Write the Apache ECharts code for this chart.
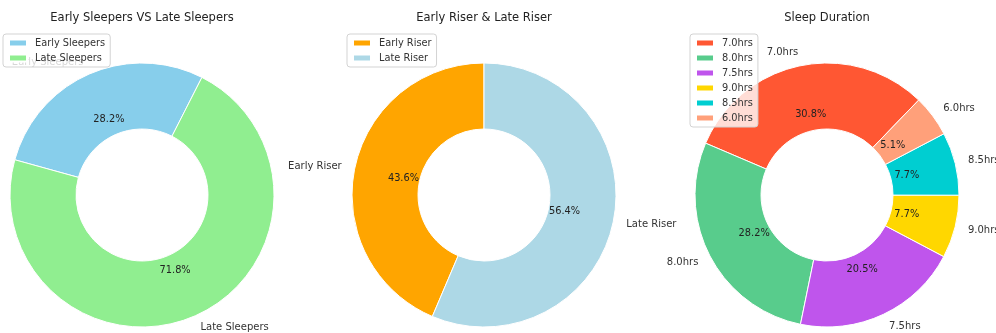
<!DOCTYPE html>
<html>
<head>
<meta charset="utf-8">
<script src="https://cdn.jsdelivr.net/npm/echarts@6/dist/echarts.min.js"></script>
<style>
html,body{margin:0;padding:0;background:#fff;}
#chart{width:996px;height:333px;}
</style>
</head>
<body>
<div id="chart"></div>
<script>
// ---- data ----
const titles = ['Early Sleepers VS Late Sleepers', 'Early Riser & Late Riser', 'Sleep Duration'];
const sleeperCats = ['Early Sleepers', 'Late Sleepers'];
const sleeperPct = [28.2, 71.8];
const riserCats = ['Early Riser', 'Late Riser'];
const riserPct = [43.6, 56.4];
const durationCats = ['7.0hrs', '8.0hrs', '7.5hrs', '9.0hrs', '8.5hrs', '6.0hrs'];
const durationPct = [30.8, 28.2, 20.5, 7.7, 7.7, 5.1];

// ---- style ----
const FONT = 'DejaVu Sans';
const R = 132, R0 = 66;
const panels = [
  { cats: sleeperCats, vals: sleeperPct, colors: ['#87CEEB', '#90EE90'], cx: 142, start: 63, legendLeft: 3 },
  { cats: riserCats, vals: riserPct, colors: ['#FFA500', '#ADD8E6'], cx: 484, start: 90, legendLeft: 347 },
  { cats: durationCats, vals: durationPct, colors: ['#FF5733', '#58CC8C', '#BF55EC', '#FFD700', '#00CED1', '#FFA07A'], cx: 827, start: 46, legendLeft: 690 }
];
const CY = 195;

const title = [], legend = [], series = [];
panels.forEach((p, k) => {
  title.push({
    text: titles[k], left: p.cx, top: 12, textAlign: 'center', padding: 0,
    textStyle: { fontFamily: FONT, fontSize: 11.5, fontWeight: 'normal', color: '#222' }
  });
  legend.push({
    data: p.cats, orient: 'vertical', left: p.legendLeft, top: 34,
    icon: 'rect', itemWidth: 18, itemHeight: 7, itemGap: 3,
    padding: [3, 5, 3, 5], borderColor: '#d3d3d3', borderWidth: 1, borderRadius: 3,
    backgroundColor: 'rgba(255,255,255,0.8)', selectedMode: false, z: 10,
    textStyle: { fontFamily: FONT, fontSize: 9.8, lineHeight: 12, color: '#333', padding: [0, 0, 0, 3] }
  });
  const common = {
    type: 'pie', left: 0, top: 0, width: 2000, height: 333,
    center: [p.cx, CY], startAngle: p.start, clockwise: false,
    avoidLabelOverlap: false, silent: true, animation: false,
    emphasis: { disabled: true }
  };
  series.push(Object.assign({}, common, {
    radius: [R0, R],
    itemStyle: { borderColor: '#fff', borderWidth: 1 },
    data: p.cats.map((n, i) => ({ name: n, value: p.vals[i], itemStyle: { color: p.colors[i] } })),
    label: { show: true, position: 'outside', formatter: '{b}', distanceToLabelLine: 0,
             fontFamily: FONT, fontSize: 10, color: '#333' },
    labelLine: { show: false, length: R * 0.1, length2: 0 }
  }));
  series.push(Object.assign({}, common, {
    radius: [0, R * 1.2], z: 3,
    itemStyle: { color: 'transparent', borderWidth: 0 },
    data: p.cats.map((n, i) => ({ name: n, value: p.vals[i] })),
    label: { show: true, position: 'inside', formatter: (q) => q.value.toFixed(1) + '%',
             fontFamily: FONT, fontSize: 9.8, color: '#222' },
    labelLine: { show: false }
  }));
});

const chart = echarts.init(document.getElementById('chart'), null, { renderer: 'canvas' });
chart.setOption({ animation: false, backgroundColor: '#fff', title, legend, series });
</script>
</body>
</html>
